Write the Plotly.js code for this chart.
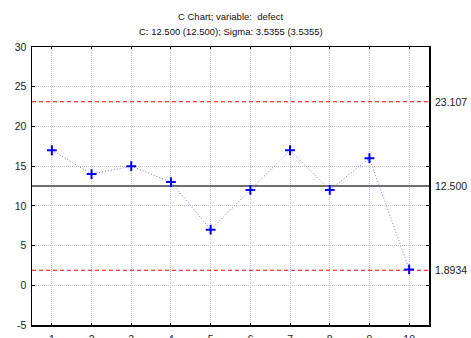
<!DOCTYPE html>
<html><head><meta charset="utf-8">
<script src="https://cdn.plot.ly/plotly-3.0.1.min.js"></script>
<style>html,body{margin:0;padding:0;background:#fff}#chart{width:471px;height:338px}</style>
</head><body><div id="chart"></div>
<script>
const samples = [1,2,3,4,5,6,7,8,9,10];
const defects = [17,14,15,13,7,12,17,12,16,2];
const center = 12.5;
const ucl = 23.107;
const lcl = 1.8934;
const limitLabels = ['23.107','12.500','1.8934'];
const yTicks = [-5,0,5,10,15,20,25,30];
const titleLines = ['C Chart; variable:  defect', 'C: 12.500 (12.500); Sigma: 3.5355 (3.5355)'];

const FONT = 'Liberation Sans, Arial, sans-serif';
const xr = [0.5, 10.5];
const traces = [
  {x: xr, y: [ucl, ucl], mode: 'lines', line: {color: '#ff0000', width: 1, dash: '4px,3px'}, hoverinfo: 'skip'},
  {x: xr, y: [lcl, lcl], mode: 'lines', line: {color: '#ff0000', width: 1, dash: '4px,3px'}, hoverinfo: 'skip'},
  {x: xr, y: [center, center], mode: 'lines', line: {color: '#404040', width: 1.5}, hoverinfo: 'skip'},
  {x: samples, y: defects, mode: 'lines+markers',
   line: {color: '#7878ff', width: 1, dash: '1px,2px'},
   marker: {symbol: 'cross-thin-open', size: 7, color: '#0000ff', line: {color: '#0000ff', width: 2}}}
];
const annotations = [ucl, center, lcl].map((v, i) => ({
  xref: 'paper', yref: 'y', x: 1, y: v, xanchor: 'left', yanchor: 'middle',
  xshift: 4, text: limitLabels[i], showarrow: false,
  font: {family: FONT, size: 10.5, color: '#222'}
}));
titleLines.forEach((t, i) => annotations.push({
  xref: 'paper', yref: 'paper', x: 0.5, y: 1, xanchor: 'center', yanchor: 'middle',
  yshift: i === 0 ? 31 : 16, text: t, showarrow: false,
  font: {family: FONT, size: 9.5, color: '#111'}
}));
const layout = {
  width: 471, height: 338,
  margin: {l: 32, r: 42, t: 47, b: 13, pad: 0},
  showlegend: false,
  paper_bgcolor: '#fff', plot_bgcolor: '#fff',
  font: {family: FONT, size: 10.5, color: '#222'},
  xaxis: {range: xr, tickvals: samples, ticktext: samples.map(String),
    showgrid: true, gridcolor: '#c4c4c4', griddash: '1px,1px', gridwidth: 1,
    zeroline: false, showline: true, linecolor: '#000', linewidth: 1.5, mirror: 'ticks',
    ticks: 'inside', ticklen: 2, tickcolor: '#000', ticklabelstandoff: 4},
  yaxis: {range: [-5, 30], tickvals: yTicks, ticktext: yTicks.map(String),
    showgrid: true, gridcolor: '#c4c4c4', griddash: '1px,1px', gridwidth: 1,
    zeroline: false, showline: true, linecolor: '#000', linewidth: 1.5, mirror: 'ticks',
    ticks: 'inside', ticklen: 3, tickcolor: '#000', ticklabelstandoff: 2},
  annotations: annotations
};
Plotly.newPlot('chart', traces, layout, {staticPlot: true});
</script></body></html>
